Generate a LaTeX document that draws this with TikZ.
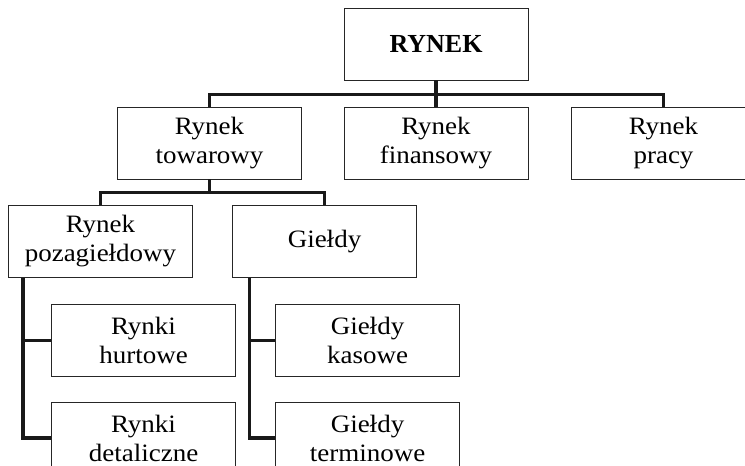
\documentclass[tikz,border=0pt]{standalone}
\usepackage{fontspec}
\setmainfont{Liberation Serif}
\newfontfamily\boxfont{Liberation Serif}[FakeStretch=1.08]
\usetikzlibrary{positioning,calc}

\begin{document}
\begin{tikzpicture}[x=1pt, y=-1pt,
    box/.style={draw=black!85, line width=0.9pt, minimum width=184pt, minimum height=72pt,
        align=center, inner sep=2pt, font=\boxfont\fontsize{25}{29}\selectfont},
    conn/.style={line width=3.6pt, black!90}]
    \useasboundingbox (0,0) rectangle (745,466);
    \clip (0,0) rectangle (745,466);
    % top level
    \node[box, font=\fontsize{26}{30}\selectfont\bfseries] (rynek) at (436,44) {RYNEK};
    \node[box] (towarowy) at (209.5,143) {Rynek\\towarowy};
    \node[box] (finansowy) at (436,143) {Rynek\\finansowy};
    \node[box] (pracy) at (663.5,143) {Rynek\\pracy};
    % second level
    \node[box] (pozag) at (100.5,241.5) {Rynek\\pozagiełdowy};
    \node[box] (gieldy) at (324.5,241.5) {Giełdy};
    % third level
    \node[box] (hurt) at (143.5,340.5) {Rynki\\hurtowe};
    \node[box] (detal) at (143.5,438) {Rynki\\detaliczne};
    \node[box] (kasowe) at (367.5,340.5) {Giełdy\\kasowe};
    \node[box] (termin) at (367.5,438) {Giełdy\\terminowe};
    % connectors
    \coordinate (bus1) at (436,94.3);
    \coordinate (bus2) at (209.5,192.5);
    \coordinate (spineL) at ($(pozag.south west)+(15,0)$);
    \coordinate (spineR) at ($(gieldy.south west)+(17.5,0)$);
    \draw[conn] (rynek.south) -- (bus1);
    \draw[conn] (towarowy.north) |- (bus1) -| (pracy.north);
    \draw[conn] (finansowy.north) -- (bus1);
    \draw[conn] (towarowy.south) -- (bus2);
    \draw[conn] (pozag.north) |- (bus2) -| (gieldy.north);
    \draw[conn] (spineL) |- (detal.west);
    \draw[conn] (hurt.west) -- (hurt.west -| spineL);
    \draw[conn] (spineR) |- (termin.west);
    \draw[conn] (kasowe.west) -- (kasowe.west -| spineR);
\end{tikzpicture}
\end{document}
